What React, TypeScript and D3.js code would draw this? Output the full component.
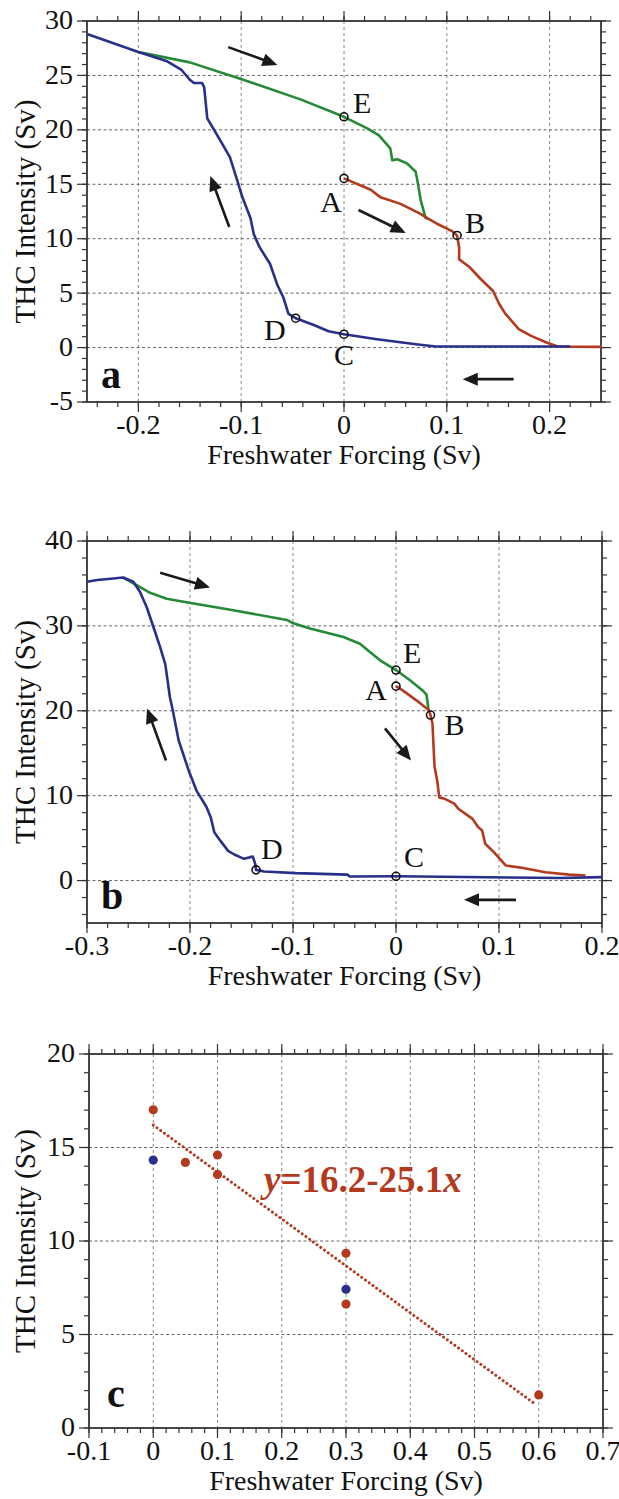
import React from "react";
import * as d3 from "d3";

type Pt = [number, number];

// ---------- Panel a data ----------
const aBlue: Pt[] = [
  [-0.25, 28.8], [-0.2, 27.15], [-0.172, 26.3], [-0.158, 25.5], [-0.15, 24.6], [-0.146, 24.3],
  [-0.138, 24.3], [-0.136, 23.9], [-0.133, 21.05], [-0.127, 20.1], [-0.119, 18.8], [-0.111, 17.5],
  [-0.104, 15.4], [-0.099, 13.85], [-0.091, 11.9], [-0.0877, 10.4], [-0.082, 9.2], [-0.072, 7.7],
  [-0.065, 5.8], [-0.059, 4.6], [-0.054, 3.1], [-0.047, 2.7], [-0.03, 2.1], [-0.015, 1.5],
  [0, 1.23], [0.032, 0.77], [0.07, 0.3], [0.089, 0.1], [0.22, 0.1],
];
const aGreen: Pt[] = [
  [-0.2, 27.15], [-0.15, 26.2], [-0.101, 24.7], [-0.0424, 22.8], [0, 21.2], [0.0226, 20.14],
  [0.034, 19.5], [0.045, 18.3], [0.047, 17.2], [0.052, 17.3], [0.0616, 16.9], [0.0697, 16.15],
  [0.0713, 15.4], [0.0746, 13.55], [0.0794, 11.9], [0.0815, 11.85],
];
const aRed: Pt[] = [
  [0, 15.54], [0.026, 14.5], [0.0356, 13.8], [0.055, 13.2], [0.074, 12.3], [0.081, 11.9],
  [0.09, 11.4], [0.105, 10.7], [0.11, 10.3], [0.112, 9.2], [0.112, 8.1], [0.122, 7.4],
  [0.133, 6.3], [0.145, 5.2], [0.151, 4.0], [0.157, 3.1], [0.17, 1.7], [0.182, 1.07],
  [0.197, 0.46], [0.208, 0.1], [0.25, 0.06],
];
const aMarkers = [
  { name: "A", x: 0, y: 15.54, dx: -2, dy: 34, anchor: "end" },
  { name: "B", x: 0.11, y: 10.3, dx: 8, dy: -2, anchor: "start" },
  { name: "C", x: 0, y: 1.23, dx: 0, dy: 31, anchor: "middle" },
  { name: "D", x: -0.047, y: 2.7, dx: -10, dy: 22, anchor: "end" },
  { name: "E", x: 0, y: 21.2, dx: 9, dy: -4, anchor: "start" },
];
const aArrows: [Pt, Pt][] = [
  [[-0.1126, 27.6], [-0.0648, 25.96]],
  [[-0.1116, 11.07], [-0.13, 15.76]],
  [[0.0141, 12.64], [0.06, 10.53]],
  [[0.165, -2.9], [0.1155, -2.9]],
];
const aXLabels = [-0.2, -0.1, 0, 0.1, 0.2];
const aYLabels = [-5, 0, 5, 10, 15, 20, 25, 30];

// ---------- Panel b data ----------
const bBlue: Pt[] = [
  [-0.3, 35.2], [-0.29, 35.4], [-0.282, 35.5], [-0.265, 35.7], [-0.255, 35.2], [-0.2485, 34.0],
  [-0.242, 32.2], [-0.2356, 29.9], [-0.229, 27.5], [-0.224, 25.5], [-0.2195, 21.6], [-0.2168, 20.1],
  [-0.211, 16.5], [-0.2014, 13], [-0.1937, 10.6], [-0.184, 8.66], [-0.18, 7.5], [-0.1764, 5.7],
  [-0.1706, 4.7], [-0.163, 3.5], [-0.157, 3.07], [-0.1475, 2.56], [-0.1417, 2.76], [-0.139, 2.83],
  [-0.1367, 1.97], [-0.1359, 1.26], [-0.128, 1.06], [-0.0974, 0.87], [-0.047, 0.7], [-0.045, 0.47],
  [0, 0.5], [0.16, 0.3], [0.2, 0.4],
];
const bGreen: Pt[] = [
  [-0.265, 35.7], [-0.2518, 34.8], [-0.2388, 33.9], [-0.2226, 33.2], [-0.1993, 32.7], [-0.158, 31.85],
  [-0.106, 30.7], [-0.0997, 30.3], [-0.0835, 29.7], [-0.051, 28.7], [-0.035, 27.9], [-0.025, 26.9],
  [-0.0155, 25.95], [0, 24.8], [0.0136, 23.6], [0.0258, 22.4], [0.0296, 21.9], [0.0316, 20.1],
];
const bRed: Pt[] = [
  [0, 22.9], [0.0065, 22.4], [0.0201, 21.2], [0.0316, 20.1], [0.0335, 19.5], [0.0354, 18.5],
  [0.0374, 13.4], [0.04, 11.8], [0.042, 9.8], [0.047, 9.65], [0.0566, 9.06], [0.0605, 8.46],
  [0.074, 7.3], [0.0797, 6.3], [0.0836, 5.9], [0.0866, 4.33], [0.095, 3.35], [0.1067, 1.77],
  [0.122, 1.5], [0.145, 0.98], [0.168, 0.7], [0.184, 0.6],
];
const bMarkers = [
  { name: "A", x: 0, y: 22.9, dx: -9, dy: 14, anchor: "end" },
  { name: "B", x: 0.0335, y: 19.5, dx: 14, dy: 20, anchor: "start" },
  { name: "C", x: 0, y: 0.5, dx: 8, dy: -9, anchor: "start" },
  { name: "D", x: -0.1359, y: 1.26, dx: 5, dy: -11, anchor: "start" },
  { name: "E", x: 0, y: 24.8, dx: 7, dy: -7, anchor: "start" },
];
const bArrows: [Pt, Pt][] = [
  [[-0.229, 36.26], [-0.1806, 34.53]],
  [[-0.2233, 14.14], [-0.2417, 20.28]],
  [[-0.0107, 17.92], [0.0146, 14.14]],
  [[0.1165, -2.27], [0.066, -2.27]],
];
const bXLabels = [-0.3, -0.2, -0.1, 0, 0.1, 0.2];
const bYLabels = [0, 10, 20, 30, 40];

// ---------- Panel c data ----------
const cRed: Pt[] = [
  [0, 17.02], [0.05, 14.2], [0.1, 14.6], [0.1, 13.56], [0.3, 9.34], [0.3, 6.63], [0.6, 1.77],
];
const cBlue: Pt[] = [[0, 14.33], [0.3, 7.42]];
const cFitIntercept = 16.2;
const cFitSlope = -25.1;
const cFitRange: [number, number] = [0, 0.595];
const cXLabels = [-0.1, 0, 0.1, 0.2, 0.3, 0.4, 0.5, 0.6, 0.7];
const cYLabels = [0, 5, 10, 15, 20];

// ---------- styling ----------
const BLUE = "#28308a";
const GREEN = "#248a36";
const RED = "#b43a1f";
const FONT = "'Liberation Serif', 'Times New Roman', serif";
const AXIS = "#333";
const GRID = "#888";

const fmt = (v: number) => (Math.abs(v) < 1e-9 ? "0" : Number.isInteger(v) ? String(v) : v.toFixed(1));

function range(a: number, b: number, step: number) {
  const out: number[] = [];
  const n = Math.round((b - a) / step);
  for (let i = 0; i <= n; i++) out.push(+(a + i * step).toFixed(6));
  return out;
}

type Box = { left: number; right: number; top: number; bottom: number };

function Frame({
  box, x, y, xLabels, yLabels, xMinor, yMinor, xGrid, yGrid, ylabelX,
}: {
  box: Box; x: d3.ScaleLinear<number, number>; y: d3.ScaleLinear<number, number>;
  xLabels: number[]; yLabels: number[]; xMinor: number[]; yMinor: number[];
  xGrid: number[]; yGrid: number[]; ylabelX: number;
}) {
  const maj = 10, mn = 5;
  return (
    <g>
      {xGrid.map((v) => (
        <line key={"xg" + v} x1={x(v)} x2={x(v)} y1={box.top} y2={box.bottom}
          stroke={GRID} strokeWidth={1} strokeDasharray="3,3" />
      ))}
      {yGrid.map((v) => (
        <line key={"yg" + v} x1={box.left} x2={box.right} y1={y(v)} y2={y(v)}
          stroke="#666" strokeWidth={1} strokeDasharray="3,2.5" />
      ))}
      {xMinor.map((v) => (
        <g key={"xm" + v}>
          <line x1={x(v)} x2={x(v)} y1={box.bottom} y2={box.bottom + mn} stroke={AXIS} strokeWidth={1.2} />
          <line x1={x(v)} x2={x(v)} y1={box.top} y2={box.top - mn} stroke={AXIS} strokeWidth={1.2} />
        </g>
      ))}
      {yMinor.map((v) => (
        <g key={"ym" + v}>
          <line x1={box.left} x2={box.left - mn} y1={y(v)} y2={y(v)} stroke={AXIS} strokeWidth={1.2} />
          <line x1={box.right} x2={box.right + mn} y1={y(v)} y2={y(v)} stroke={AXIS} strokeWidth={1.2} />
        </g>
      ))}
      {xLabels.map((v) => (
        <g key={"xl" + v}>
          <line x1={x(v)} x2={x(v)} y1={box.bottom} y2={box.bottom + maj} stroke={AXIS} strokeWidth={1.2} />
          <line x1={x(v)} x2={x(v)} y1={box.top} y2={box.top - maj} stroke={AXIS} strokeWidth={1.2} />
          <text x={x(v)} y={box.bottom + 32} textAnchor="middle" fontSize={28} fontFamily={FONT} fill="#111">
            {fmt(v)}
          </text>
        </g>
      ))}
      {yLabels.map((v) => (
        <g key={"yl" + v}>
          <line x1={box.left} x2={box.left - maj} y1={y(v)} y2={y(v)} stroke={AXIS} strokeWidth={1.2} />
          <line x1={box.right} x2={box.right + maj} y1={y(v)} y2={y(v)} stroke={AXIS} strokeWidth={1.2} />
          <text x={box.left - 14} y={y(v)} dy="0.3em" textAnchor="end" fontSize={28} fontFamily={FONT} fill="#111">
            {fmt(v)}
          </text>
        </g>
      ))}
      <rect x={box.left} y={box.top} width={box.right - box.left} height={box.bottom - box.top}
        fill="none" stroke={AXIS} strokeWidth={1.8} />
      <text x={(box.left + box.right) / 2} y={box.bottom + 62} textAnchor="middle" fontSize={28} fontFamily={FONT} fill="#111">
        Freshwater Forcing (Sv)
      </text>
      <text transform={`translate(${ylabelX},${(box.top + box.bottom) / 2}) rotate(-90)`} textAnchor="middle"
        fontSize={29} fontFamily={FONT} fill="#111">
        THC Intensity (Sv)
      </text>
    </g>
  );
}

function Arrow({ s, e }: { s: Pt; e: Pt }) {
  const dx = e[0] - s[0], dy = e[1] - s[1];
  const L = Math.hypot(dx, dy);
  const ux = dx / L, uy = dy / L;
  const hl = 15, hw = 6.5;
  const bx = e[0] - ux * hl, by = e[1] - uy * hl;
  const p = `${e[0]},${e[1]} ${bx - uy * hw},${by + ux * hw} ${bx + uy * hw},${by - ux * hw}`;
  return (
    <g>
      <line x1={s[0]} y1={s[1]} x2={bx + ux * 2} y2={by + uy * 2} stroke="#1a1a1a" strokeWidth={2.6} />
      <polygon points={p} fill="#1a1a1a" />
    </g>
  );
}

function CurvePanel({
  box, xd, yd, blue, green, red, markers, arrows, xLabels, yLabels, xMinorStep, yMinorStep,
  xGrid, yGrid, letter,
}: any) {
  const x = d3.scaleLinear().domain(xd).range([box.left, box.right]);
  const y = d3.scaleLinear().domain(yd).range([box.bottom, box.top]);
  const line = d3.line<Pt>().x((d) => x(d[0])).y((d) => y(d[1]));
  const xMinor = range(Math.ceil(xd[0] / xMinorStep) * xMinorStep, Math.floor(xd[1] / xMinorStep) * xMinorStep, xMinorStep);
  const yMinor = range(Math.ceil(yd[0] / yMinorStep) * yMinorStep, Math.floor(yd[1] / yMinorStep) * yMinorStep, yMinorStep);
  return (
    <g>
      <Frame box={box} x={x} y={y} xLabels={xLabels} yLabels={yLabels} xMinor={xMinor} yMinor={yMinor}
        xGrid={xGrid} yGrid={yGrid} ylabelX={35} />
      <path d={line(green) || ""} fill="none" stroke={GREEN} strokeWidth={2.6} strokeLinejoin="round" />
      <path d={line(red) || ""} fill="none" stroke={RED} strokeWidth={2.6} strokeLinejoin="round" />
      <path d={line(blue) || ""} fill="none" stroke={BLUE} strokeWidth={2.6} strokeLinejoin="round" />
      {markers.map((m: any) => (
        <g key={m.name}>
          <circle cx={x(m.x)} cy={y(m.y)} r={4} fill="none" stroke="#111" strokeWidth={1.6} />
          <text x={x(m.x) + m.dx} y={y(m.y) + m.dy} textAnchor={m.anchor} fontSize={30} fontFamily={FONT} fill="#111">
            {m.name}
          </text>
        </g>
      ))}
      {arrows.map((a: [Pt, Pt], i: number) => (
        <Arrow key={i} s={[x(a[0][0]), y(a[0][1])]} e={[x(a[1][0]), y(a[1][1])]} />
      ))}
      <text x={box.left + 14} y={box.bottom - 14} fontSize={40} fontWeight="bold" fontFamily={FONT} fill="#111">
        {letter}
      </text>
    </g>
  );
}

export default function App() {
  const boxA: Box = { left: 87, right: 601, top: 21, bottom: 402 };
  const boxB: Box = { left: 87, right: 602, top: 541, bottom: 923 };
  const boxC: Box = { left: 89, right: 603, top: 1054, bottom: 1428 };

  const xc = d3.scaleLinear().domain([-0.1, 0.7]).range([boxC.left, boxC.right]);
  const yc = d3.scaleLinear().domain([0, 20]).range([boxC.bottom, boxC.top]);
  const fit = d3.line<Pt>().x((d) => xc(d[0])).y((d) => yc(d[1]));
  const fitPts: Pt[] = cFitRange.map((v) => [v, cFitIntercept + cFitSlope * v] as Pt);

  return (
    <svg width={619} height={1499} style={{ position: "absolute", left: 0, top: 0, background: "#fff" }}>
      <rect width={619} height={1499} fill="#fff" />
      <CurvePanel box={boxA} xd={[-0.25, 0.25]} yd={[-5, 30]} blue={aBlue} green={aGreen} red={aRed}
        markers={aMarkers} arrows={aArrows} xLabels={aXLabels} yLabels={aYLabels}
        xMinorStep={0.02} yMinorStep={1} xGrid={[-0.2, -0.1, 0, 0.1, 0.2]} yGrid={[0, 5, 10, 15, 20, 25]} letter="a" />
      <CurvePanel box={boxB} xd={[-0.3, 0.2]} yd={[-5, 40]} blue={bBlue} green={bGreen} red={bRed}
        markers={bMarkers} arrows={bArrows} xLabels={bXLabels} yLabels={bYLabels}
        xMinorStep={0.02} yMinorStep={2} xGrid={[-0.2, -0.1, 0, 0.1]} yGrid={[0, 10, 20, 30]} letter="b" />

      <g>
        <Frame box={boxC} x={xc} y={yc} xLabels={cXLabels} yLabels={cYLabels}
          xMinor={range(-0.1, 0.7, 0.02)} yMinor={range(0, 20, 1)}
          xGrid={[0, 0.1, 0.2, 0.3, 0.4, 0.5, 0.6]} yGrid={[5, 10, 15]} ylabelX={35} />
        <path d={fit(fitPts) || ""} fill="none" stroke={RED} strokeWidth={3} strokeLinecap="round"
          strokeDasharray="0.01,4.6" />
        {cRed.map((d, i) => (
          <circle key={"r" + i} cx={xc(d[0])} cy={yc(d[1])} r={4.6} fill={RED} />
        ))}
        {cBlue.map((d, i) => (
          <circle key={"b" + i} cx={xc(d[0])} cy={yc(d[1])} r={4.6} fill={BLUE} />
        ))}
        <text x={264} y={1192} fontSize={37} fontWeight="bold" fontFamily={FONT} fill={RED}>
          <tspan fontStyle="italic">y</tspan>=16.2-25.1<tspan fontStyle="italic">x</tspan>
        </text>
        <text x={boxC.left + 18} y={boxC.bottom - 21} fontSize={40} fontWeight="bold" fontFamily={FONT} fill="#111">
          c
        </text>
      </g>
    </svg>
  );
}
